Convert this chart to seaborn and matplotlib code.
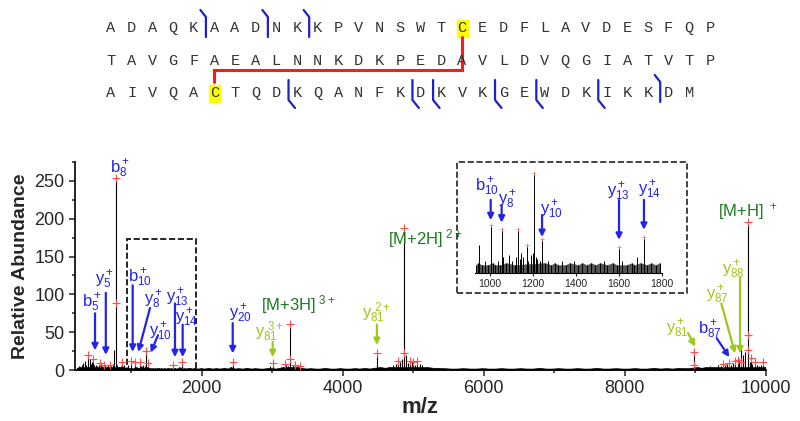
import numpy as np
import pandas as pd
import seaborn as sns
import matplotlib.pyplot as plt
from matplotlib.patches import Rectangle

# peptide sequence (three rows as in the figure)
seq_rows = ["ADAQKAADNKKPVNSWTCEDFLAVDESFQP",
            "TAVGFAEALNNKDKPEDAVLDVQGIATVTP",
            "AIVQACTQDKQANFKDKVKGEWDKIKKDM"]
b_cuts = [(0, 5), (0, 8), (0, 10), (2, 27)]          # (row, cut before residue index)
y_cuts = [(2, 9), (2, 15), (2, 16), (2, 19), (2, 21), (2, 24)]
cys_sites = [(0, 17), (2, 5)]                          # disulfide-linked cysteines

# main peaks of the spectrum (m/z, relative abundance)
peak_mz = [392, 463, 557, 610, 700, 780, 865, 949, 1003, 1054,
           1130, 1170, 1205, 1242, 1600, 1685, 1716, 2440, 3007, 3180,
           3252, 3330, 4485, 4780, 4870, 4950, 5000, 5060, 8985, 9390,
           9480, 9560, 9600, 9650, 9745, 9790, 9850, 9960]
peak_h = [20, 15, 9, 7, 6, 255, 11, 7, 12, 11,
          11, 7, 25, 8.5, 6.5, 4, 9, 11, 9, 8,
          61, 6, 23, 12, 188, 12, 10, 12, 25, 8,
          9, 12, 13, 30, 196, 16, 10, 10]

# noise floor
noise_lo_mz = [230, 255, 280, 300, 320, 345, 365, 410, 425, 445, 475, 500, 520, 540,
               575, 590, 625, 650, 675, 720, 745, 760, 805, 825, 850, 885, 905, 920]
noise_lo_h = [3, 5, 4, 6, 9, 12, 7, 14, 8, 10, 6, 7, 5, 6,
              8, 5, 7, 4, 6, 5, 8, 26, 6, 4, 5, 4, 6, 3]
fine_mz = [935, 943, 962, 975, 990, 1012, 1025, 1038, 1046, 1062,
           1075, 1088, 1100, 1115, 1122, 1138, 1145, 1155, 1178, 1190,
           1198, 1212, 1220, 1232, 1255, 1268, 1285, 1300, 1318, 1335,
           1352, 1370, 1390, 1410, 1428, 1450, 1470, 1490, 1512, 1528,
           1545, 1570, 1590, 1615, 1635, 1660, 1672, 1700, 1730, 1750,
           1770, 1790]
fine_h = [2, 2.5, 2, 3, 2, 2.5, 2, 3, 2, 4,
          2.5, 4.5, 3, 2, 4, 3.5, 5, 4, 3, 4.5,
          5, 4, 3.5, 3, 2.5, 3, 2, 2.5, 2, 3,
          2, 2.5, 3, 2, 2.5, 2, 2.5, 2, 2.5, 3,
          2, 2.5, 2, 3, 2, 2.5, 2, 2.5, 2, 2.5,
          2, 2.5]
noise_hi_mz = [1830, 1860, 1900, 1940, 1990, 2040, 2090, 2150, 2200, 2260,
               2310, 2370, 2410, 2470, 2520, 2580, 2640, 2700, 2760, 2820,
               2880, 2940, 2970, 3050, 3100, 3150, 3200, 3230, 3290, 3350,
               3420, 3480, 3540, 3610, 3680, 3750, 3820, 3890, 3960, 4030,
               4100, 4170, 4240, 4310, 4380, 4440, 4530, 4600, 4660, 4720,
               4760, 4810, 4840, 4900, 4920, 4980, 5030, 5090, 5130, 5200,
               5280, 5360, 5440, 5530, 5620, 5710, 5800, 5890, 5980, 6070,
               6160, 6250, 6340, 6430, 6520, 6610, 6700, 6790, 6880, 6970,
               7060, 7150, 7240, 7330, 7420, 7510, 7600, 7690, 7780, 7870,
               7960, 8050, 8140, 8230, 8320, 8410, 8500, 8590, 8680, 8770,
               8860, 8940, 9030, 9090, 9150, 9210, 9260, 9320, 9360, 9420,
               9450, 9510, 9540, 9620, 9680, 9710, 9770, 9810, 9880, 9910,
               9940, 9990]
noise_hi_h = [3, 2, 3, 2, 2.5, 2, 3, 2, 2.5, 2,
              3, 2, 4, 2, 2.5, 2, 3, 2, 2.5, 2,
              2, 3, 5, 2, 3, 4, 6, 5, 7, 4,
              3, 2, 2.5, 2, 2, 3, 2, 2, 2.5, 2,
              2, 2.5, 2, 3, 2, 3, 4, 3, 4, 6,
              8, 10, 14, 20, 9, 12, 7, 8, 6, 4,
              3, 3, 2.5, 2, 2, 2.5, 2, 2, 2.5, 2,
              2, 2.5, 2, 2, 2.5, 2, 2, 3, 2, 2,
              2.5, 2, 2, 2.5, 2, 2, 3, 2, 2, 2.5,
              2, 2, 2.5, 2, 2, 3, 2, 2.5, 2, 3,
              2.5, 3, 4, 3, 4, 5, 4, 6, 5, 7,
              8, 6, 9, 14, 20, 24, 11, 8, 6, 5,
              7, 4]

# peaks marked with red crosses
mark_mz = [392, 463, 557, 610, 700, 780, 780, 865, 1003, 1054, 1130, 1205, 1242,
           1600, 1716, 2440, 3007, 3252, 3252, 3180, 3330, 3400, 4485, 4780, 4870,
           4870, 4950, 5000, 5060, 8985, 8985, 9390, 9480, 9560, 9600, 9650, 9745,
           9745, 9745, 9790, 9850, 9960]
mark_h = [20, 15, 9, 7, 6, 254, 88, 11, 12, 11, 11, 25, 9,
          7, 10, 11, 9, 61, 14, 8, 6, 5, 22, 12, 188,
          22, 12, 10, 12, 24, 7, 8, 9, 12, 13, 10, 196,
          46, 26, 16, 10, 10]
inset_mark_mz = [1003, 1054, 1130, 1170, 1205, 1242, 1600, 1716]

BLUE = "#2424e8"
LIME = "#9dc91c"
GREEN = "#1d7a1d"

# ion labels: text, colour, label position, arrow start, arrow tip
ions = [
    ("b$_8^+$", BLUE, (843, 266), None, None),
    ("b$_5^+$", BLUE, (444, 89), (487, 75), (487, 26)),
    ("y$_5^+$", BLUE, (628, 119), (640, 102), (640, 20)),
    ("b$_{10}^+$", BLUE, (1125, 122), (1021, 112), (1021, 24)),
    ("y$_8^+$", BLUE, (1312, 93), (1267, 82), (1101, 24)),
    ("y$_{10}^+$", BLUE, (1409, 50), (1380, 46), (1277, 23)),
    ("y$_{13}^+$", BLUE, (1650, 95), (1621, 88), (1621, 17)),
    ("y$_{14}^+$", BLUE, (1790, 69), (1730, 60), (1730, 17)),
    ("y$_{20}^+$", BLUE, (2545, 75), (2440, 62), (2440, 22)),
    ("y$_{81}^{\\ 3+}$", LIME, (2970, 50), (3007, 37), (3007, 17)),
    ("[M+3H]$^{\\ 3+}$", GREEN, (3372, 86), None, None),
    ("y$_{81}^{\\ 2+}$", LIME, (4487, 75), (4485, 60), (4485, 33)),
    ("[M+2H]$^{\\ 2+}$", GREEN, (5170, 174), None, None),
    ("y$_{81}^+$", LIME, (8745, 55), (8898, 49), (8997, 31)),
    ("b$_{87}^+$", BLUE, (9210, 53), (9305, 42), (9484, 17)),
    ("y$_{87}^+$", LIME, (9320, 99), (9370, 88), (9565, 22)),
    ("y$_{88}^+$", LIME, (9540, 133), (9636, 122), (9636, 22)),
    ("[M+H]$^{\\ +}$", GREEN, (9750, 209), None, None),
]
inset_ions = [
    ("b$_{10}^+$", (986, 21.5), (1003, 18.3), (1003, 13.2)),
    ("y$_8^+$", (1079, 18.3), (1054, 17), (1054, 12.6)),
    ("y$_{10}^+$", (1288, 15.8), (1242, 14.5), (1242, 9)),
    ("y$_{13}^+$", (1595, 20.3), (1600, 18.3), (1600, 8.3)),
    ("y$_{14}^+$", (1744, 20.8), (1716, 18.3), (1716, 10.8)),
]

sns.set_style("ticks")
plt.rcParams['font.family'] = ['Liberation Sans', 'DejaVu Sans']
plt.rcParams['mathtext.default'] = 'regular'

spec = pd.concat([
    pd.DataFrame({'mz': noise_lo_mz, 'h': noise_lo_h}),
    pd.DataFrame({'mz': fine_mz, 'h': fine_h}),
    pd.DataFrame({'mz': noise_hi_mz, 'h': noise_hi_h}),
    pd.DataFrame({'mz': peak_mz, 'h': peak_h}),
]).sort_values('mz')
floor = spec[spec['h'] <= 4]
marks = pd.DataFrame({'mz': mark_mz, 'h': mark_h})

fig = plt.figure(figsize=(8, 4.21), dpi=100)

# ---- sequence panel ----
sax = fig.add_axes([0, 1 - 120 / 421, 1, 120 / 421])
sax.set_xlim(0, 800)
sax.set_ylim(120, 0)
sax.axis('off')
x0, dx = 111, 20.65
row_y = [28, 61, 93]
for r, row in enumerate(seq_rows):
    for i, ch in enumerate(row):
        sax.text(x0 + i * dx, row_y[r], ch, ha='center', va='center',
                 family='Liberation Mono', fontsize=11, color='#333333')
for r, i in cys_sites:
    sax.add_patch(Rectangle((x0 + i * dx - 5.5, row_y[r] - 8.5), 11, 17,
                            color='#ffff00', zorder=0))
(r1, i1), (r2, i2) = cys_sites
xa, xb = x0 + i1 * dx, x0 + i2 * dx
ymid = (row_y[1] + row_y[2]) / 2 - 7
sax.plot([xa, xa, xb, xb], [row_y[r1] + 9, ymid, ymid, row_y[r2] - 11],
         color='#ff1a1a', lw=2.2, solid_joinstyle='miter')
for r, i in b_cuts:
    x = x0 + (i - 0.5) * dx + 2
    cy = row_y[r]
    sax.plot([x - 5.5, x, x], [cy - 18, cy - 11, cy + 9], color='#2020c8', lw=1.6)
for r, i in y_cuts:
    x = x0 + (i - 0.5) * dx + 2
    cy = row_y[r]
    sax.plot([x, x, x + 6.5], [cy - 13, cy + 7, cy + 15], color='#2020c8', lw=1.6)

# ---- main spectrum ----
ax = fig.add_axes([0.09375, 0.1211, 0.8634, 0.4941])
ax.fill_between(floor['mz'], 0, floor['h'], color='black', lw=0.4)
ax.vlines(spec['mz'], 0, spec['h'], color='black', lw=0.8)
sns.scatterplot(data=marks, x='mz', y='h', ax=ax, marker='+', color='#ff4d4d',
                s=40, linewidth=0.8, zorder=3)
ax.set_xlim(203, 10000)
ax.set_ylim(0, 275)
ax.set_xticks([2000, 4000, 6000, 8000, 10000])
ax.set_xticks([1000, 3000, 5000, 7000, 9000], minor=True)
ax.set_yticks([0, 50, 100, 150, 200, 250])
ax.set_yticks([25, 75, 125, 175, 225, 275], minor=True)
ax.tick_params(labelsize=13, width=1.1, length=4, direction='out')
ax.tick_params(which='minor', width=1.1, length=2.5)
sns.despine(ax=ax)
for s in ['left', 'bottom']:
    ax.spines[s].set_linewidth(1.2)
    ax.spines[s].set_color('black')
ax.set_xlabel('m/z', fontsize=16, fontweight='bold', labelpad=0)
ax.set_ylabel('Relative Abundance', fontsize=14, fontweight='bold', labelpad=4)

for txt, c, pos, a0, a1 in ions:
    ax.text(pos[0], pos[1], txt, color=c, fontsize=12, ha='center', va='center',
            clip_on=False)
    if a0 is not None:
        ax.annotate('', xy=a1, xytext=a0,
                    arrowprops=dict(arrowstyle='-|>', color=c, lw=1.6,
                                    mutation_scale=9, shrinkA=0, shrinkB=0))

ax.add_patch(Rectangle((935, 0), 985, 173, fill=False, ls='--', lw=1.2,
                       ec='black', clip_on=False))

# ---- inset ----
fig.add_artist(Rectangle((457 / 800, 1 - 293 / 421), 230 / 800, 131 / 421,
                         fill=False, ls='--', lw=1.2, ec='#222222',
                         transform=fig.transFigure))
iax = fig.add_axes([0.59375, 0.3515, 0.23375, 0.2565])
iax.patch.set_alpha(0)
ins = spec[(spec['mz'] >= 930) & (spec['mz'] <= 1800)]
ifloor = ins[ins['h'] <= 2.5]
iax.fill_between(ifloor['mz'], 0, ifloor['h'], color='#555555', lw=0.3)
iax.vlines(ins['mz'], 0, ins['h'], color='black', lw=0.7)
imarks = ins[ins['mz'].isin(inset_mark_mz)]
sns.scatterplot(data=imarks, x='mz', y='h', ax=iax, marker='+', color='#ff8080',
                s=12, linewidth=0.6, zorder=3)
iax.set_xlim(930, 1800)
iax.set_ylim(0, 27)
iax.set_xticks([1000, 1200, 1400, 1600, 1800])
iax.set_yticks([])
iax.tick_params(labelsize=7.5, length=2, width=0.8, pad=2)
sns.despine(ax=iax, left=True)
iax.spines['bottom'].set_color('black')
iax.spines['bottom'].set_linewidth(0.8)
iax.set_xlabel('')
iax.set_ylabel('')
for txt, pos, a0, a1 in inset_ions:
    iax.text(pos[0], pos[1], txt, color=BLUE, fontsize=12, ha='center', va='center',
             clip_on=False)
    iax.annotate('', xy=a1, xytext=a0,
                 arrowprops=dict(arrowstyle='-|>', color=BLUE, lw=1.6,
                                 mutation_scale=9, shrinkA=0, shrinkB=0))

fig.savefig('out.png', dpi=100)
